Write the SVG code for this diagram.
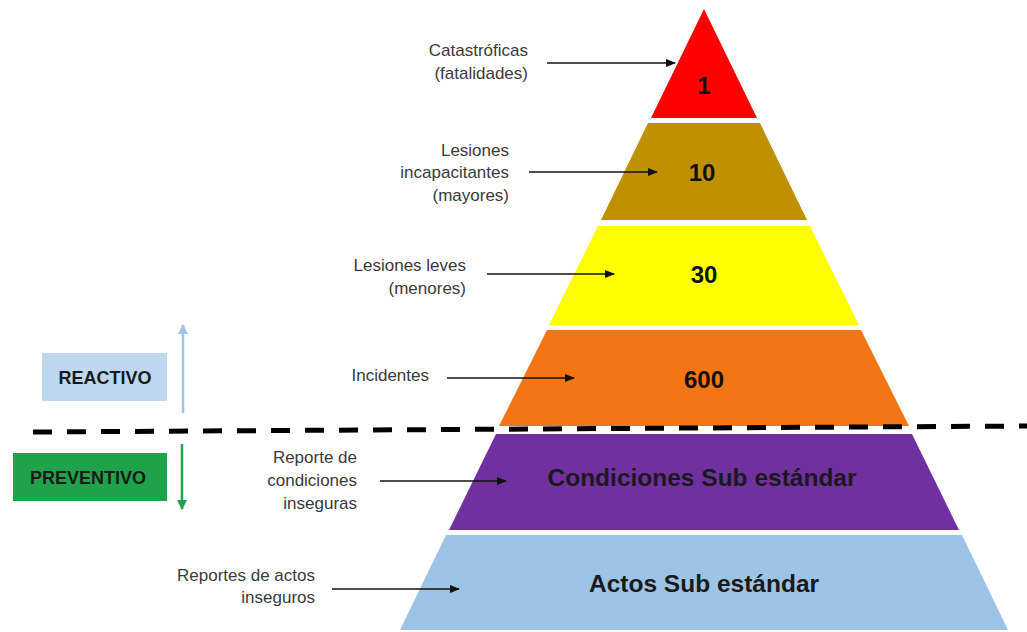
<svg xmlns="http://www.w3.org/2000/svg" width="1027" height="632" viewBox="0 0 1027 632">
<style>
.lbl{font-family:"Liberation Sans",Arial,sans-serif;font-size:17px;fill:#3a3a3a;text-anchor:end}
.num{font-family:"Liberation Sans",Arial,sans-serif;font-size:24px;font-weight:bold;fill:#111;text-anchor:middle}
.big{font-family:"Liberation Sans",Arial,sans-serif;font-size:24.5px;font-weight:bold;fill:#1a1a1a;text-anchor:middle}
.box{font-family:"Liberation Sans",Arial,sans-serif;font-size:18px;font-weight:bold;fill:#1a1a1a;text-anchor:middle}
.arr{stroke:#111;stroke-width:1.4;fill:none;marker-end:url(#ah)}
</style>
<defs>
<marker id="ah" markerWidth="10" markerHeight="8" refX="9" refY="4" orient="auto" markerUnits="userSpaceOnUse">
<path d="M0,0 L10,4 L0,8 Z" fill="#111"/>
</marker>
<marker id="ahb" markerWidth="10" markerHeight="10" refX="9" refY="5" orient="auto" markerUnits="userSpaceOnUse">
<path d="M0,0 L10,5 L0,10 Z" fill="#9dc3e6"/>
</marker>
<marker id="ahg" markerWidth="10" markerHeight="10" refX="9" refY="5" orient="auto" markerUnits="userSpaceOnUse">
<path d="M0,0 L10,5 L0,10 Z" fill="#1fa34a"/>
</marker>
</defs>
<rect width="1027" height="632" fill="#fff"/>

<g id="level-1">
<polygon points="704,9 757,118 651,118" fill="#ff0000"/>
<text class="num" x="704" y="94">1</text>
</g>
<g id="level-10">
<polygon points="648,123 760,123 807,220 601,220" fill="#bf9000"/>
<text class="num" x="702" y="181">10</text>
</g>
<g id="level-30">
<polygon points="598,226 810,226 859,325 549,325" fill="#ffff00"/>
<text class="num" x="704" y="283">30</text>
</g>
<g id="level-600">
<polygon points="547,330 861,330 909,426 499,426" fill="#f47513"/>
<text class="num" x="704" y="388">600</text>
</g>
<g id="level-condiciones">
<polygon points="496,434 912,434 959,530 449,530" fill="#7030a0"/>
<text class="big" x="702" y="486">Condiciones Sub estándar</text>
</g>
<g id="level-actos">
<polygon points="446,535 962,535 1008,630 400,630" fill="#9dc3e6"/>
<text class="big" x="704" y="592">Actos Sub estándar</text>
</g>

<g id="divider">
<line x1="33" y1="432" x2="1027" y2="426" stroke="#000" stroke-width="5" stroke-dasharray="19,15"/>
</g>

<g id="reactivo">
<rect x="42" y="353" width="125" height="48" fill="#bdd7ee"/>
<text class="box" x="105" y="384">REACTIVO</text>
</g>
<g id="preventivo">
<rect x="13" y="453" width="154" height="48" fill="#1fa34a"/>
<text class="box" x="88" y="484">PREVENTIVO</text>
</g>

<g id="label-catastroficas">
<text class="lbl" x="528" y="56">Catastróficas</text>
<text class="lbl" x="528" y="79">(fatalidades)</text>
</g>
<g id="label-incapacitantes">
<text class="lbl" x="509" y="156">Lesiones</text>
<text class="lbl" x="509" y="178">incapacitantes</text>
<text class="lbl" x="509" y="201">(mayores)</text>
</g>
<g id="label-leves">
<text class="lbl" x="466" y="271">Lesiones leves</text>
<text class="lbl" x="466" y="294">(menores)</text>
</g>
<g id="label-incidentes">
<text class="lbl" x="429" y="381">Incidentes</text>
</g>
<g id="label-condiciones">
<text class="lbl" x="357" y="463">Reporte de</text>
<text class="lbl" x="357" y="486">condiciones</text>
<text class="lbl" x="357" y="509">inseguras</text>
</g>
<g id="label-actos">
<text class="lbl" x="315" y="581">Reportes de actos</text>
<text class="lbl" x="315" y="603">inseguros</text>
</g>

<g id="connectors">
<line class="arr" x1="547" y1="63" x2="675" y2="63"/>
<line class="arr" x1="529" y1="172" x2="657" y2="172"/>
<line class="arr" x1="487" y1="274" x2="614" y2="274"/>
<line class="arr" x1="447" y1="378" x2="574" y2="378"/>
<line class="arr" x1="380" y1="481" x2="506" y2="481"/>
<line class="arr" x1="332" y1="589" x2="459" y2="589"/>
<line x1="183" y1="413" x2="183" y2="325" stroke="#9dc3e6" stroke-width="2.5" marker-end="url(#ahb)"/>
<line x1="182" y1="444" x2="182" y2="509" stroke="#1fa34a" stroke-width="2.5" marker-end="url(#ahg)"/>
</g>
</svg>
